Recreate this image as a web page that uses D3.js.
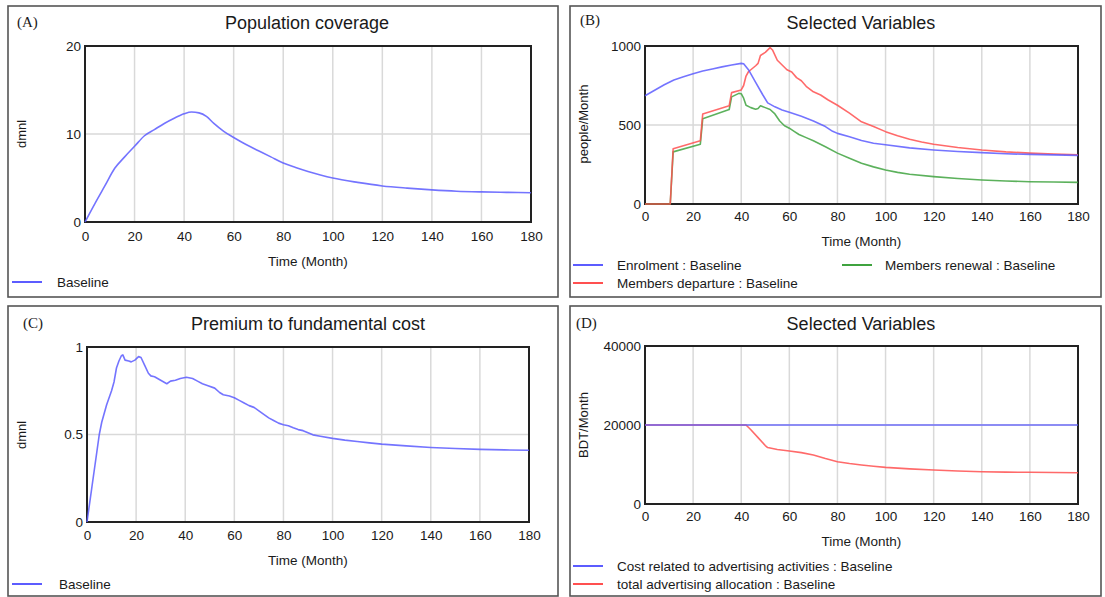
<!DOCTYPE html>
<html>
<head>
<meta charset="utf-8">
<script src="https://cdn.jsdelivr.net/npm/d3@7"></script>
<style>
  html, body { margin: 0; padding: 0; background: #fff; }
  svg { display: block; }
  text { font-family: "Liberation Sans", Arial, sans-serif; fill: #1a1a1a; }
  .tag { font-family: "Liberation Serif", "Times New Roman", serif; }
</style>
</head>
<body>
<svg id="chart" width="1105" height="597"></svg>
<script>
// Time axis shared by every panel
const monthTicks = [0, 20, 40, 60, 80, 100, 120, 140, 160, 180];

// (A) Population coverage
const coverageMonths = [0, 4, 8, 12, 16, 20, 24, 28, 32, 36, 40, 43, 46, 49, 52, 56, 60, 65, 70, 75, 80, 85, 90, 95, 100, 110, 120, 130, 140, 150, 160, 170, 180];
const coverageValues = [0, 2.1, 4.1, 6.1, 7.4, 8.6, 9.8, 10.5, 11.2, 11.8, 12.3, 12.5, 12.4, 12.0, 11.2, 10.3, 9.6, 8.8, 8.1, 7.4, 6.7, 6.2, 5.75, 5.35, 5.0, 4.5, 4.1, 3.85, 3.65, 3.5, 3.42, 3.37, 3.32];
const coverageTicks = [0, 10, 20];

// (B) Selected variables, people/Month
const enrolMonths = [0, 4, 8, 12, 16, 20, 24, 28, 32, 36, 40, 41, 43, 46, 49, 51, 54, 57, 60, 65, 70, 75, 78, 80, 85, 90, 95, 100, 110, 120, 130, 140, 150, 160, 170, 180];
const enrolValues = [685, 720, 755, 785, 805, 825, 842, 855, 868, 880, 890, 888, 850, 770, 690, 640, 615, 595, 580, 555, 525, 490, 460, 447, 425, 402, 385, 375, 355, 342, 332, 325, 318, 314, 311, 308];
const departureMonths = [0, 10.5, 11.7, 23, 24, 35, 36, 40, 41, 42, 43, 46, 47, 48, 50, 52, 53, 55, 57, 59, 61, 63, 65, 67, 70, 73, 76, 80, 85, 90, 95, 100, 105, 110, 115, 120, 130, 140, 150, 160, 170, 180];
const departureValues = [0, 0, 350, 400, 570, 622, 705, 722, 750, 810, 837, 875, 890, 940, 960, 990, 975, 910, 880, 850, 835, 800, 780, 745, 710, 690, 660, 625, 575, 520, 490, 458, 432, 410, 392, 378, 358, 342, 330, 322, 316, 312];
const renewalMonths = [0, 10.5, 11.7, 23, 24, 35, 36, 39, 40, 41, 42, 44, 46, 47, 48, 50, 52, 54, 56, 58, 60, 62, 64, 67, 70, 75, 80, 85, 90, 95, 100, 105, 110, 120, 130, 140, 150, 160, 170, 180];
const renewalValues = [0, 0, 330, 378, 540, 598, 678, 700, 698, 670, 625, 610, 600, 605, 622, 610, 598, 570, 525, 495, 480, 460, 440, 420, 400, 362, 322, 290, 258, 235, 215, 200, 188, 173, 161, 152, 146, 141, 139, 137];
const peopleTicks = [0, 500, 1000];

// (C) Premium to fundamental cost
const premiumMonths = [0, 2, 4, 5, 6, 8, 10, 11, 12, 13, 14, 14.6, 15.5, 17, 18, 19.5, 21, 22, 23.5, 25, 26, 27.5, 30, 32.5, 34, 36, 38, 40.5, 43, 45, 47, 49, 52, 54, 55.5, 58, 60, 62, 64, 66, 68, 70, 72, 74, 76, 78, 80, 82, 84, 86, 88, 90, 92, 95, 100, 105, 110, 115, 120, 130, 140, 150, 160, 170, 180];
const premiumValues = [0, 0.2, 0.4, 0.5, 0.57, 0.67, 0.75, 0.8, 0.88, 0.92, 0.95, 0.955, 0.925, 0.92, 0.915, 0.925, 0.945, 0.94, 0.895, 0.85, 0.835, 0.83, 0.81, 0.79, 0.805, 0.81, 0.82, 0.827, 0.82, 0.805, 0.79, 0.78, 0.765, 0.74, 0.727, 0.72, 0.71, 0.695, 0.68, 0.665, 0.655, 0.635, 0.615, 0.595, 0.58, 0.565, 0.556, 0.55, 0.538, 0.528, 0.522, 0.51, 0.498, 0.49, 0.478, 0.468, 0.46, 0.452, 0.445, 0.435, 0.426, 0.42, 0.415, 0.412, 0.41];
const premiumTicks = [0, 0.5, 1];

// (D) Selected variables, BDT/Month
const advCostMonths = [0, 180];
const advCostValues = [20000, 20000];
const allocationMonths = [0, 42, 44, 47, 50, 51, 55, 60, 65, 70, 75, 80, 85, 90, 95, 100, 110, 120, 130, 140, 150, 160, 170, 180];
const allocationValues = [20000, 20000, 18800, 16800, 14800, 14300, 13800, 13400, 13000, 12400, 11500, 10700, 10250, 9870, 9550, 9280, 8900, 8610, 8350, 8180, 8080, 8020, 7970, 7930];
const bdtTicks = [0, 20000, 40000];

const BLUE = "#5c5cff", RED = "#ff5050", GREEN = "#3fa33f";

const svg = d3.select("#chart");

function zip(ms, vs) { return ms.map((m, i) => ({ m, v: vs[i] })); }

function panel(cfg) {
  const g = svg.append("g");
  // outer frame
  g.append("rect")
    .attr("x", cfg.frame[0]).attr("y", cfg.frame[1])
    .attr("width", cfg.frame[2] - cfg.frame[0]).attr("height", cfg.frame[3] - cfg.frame[1])
    .attr("fill", "none").attr("stroke", "#555").attr("stroke-width", 1.6);

  g.append("text").attr("class", "tag")
    .attr("x", cfg.tag[0]).attr("y", cfg.tag[1])
    .attr("font-size", 15).text(cfg.tagText);

  g.append("text")
    .attr("x", cfg.titleX).attr("y", cfg.titleY)
    .attr("text-anchor", "middle").attr("font-size", 18).text(cfg.title);

  const [x0, x1, y0, y1] = cfg.plot;
  const x = d3.scaleLinear().domain([0, 180]).range([x0, x1]);
  const y = d3.scaleLinear().domain([cfg.yTicks[0], cfg.yTicks[cfg.yTicks.length - 1]]).range([y1, y0]);

  // grid
  const grid = g.append("g").attr("stroke", "#d9d9d9").attr("stroke-width", 1.5);
  monthTicks.slice(1, -1).forEach(t => {
    grid.append("line").attr("x1", x(t)).attr("x2", x(t)).attr("y1", y0).attr("y2", y1);
  });
  cfg.yTicks.slice(1, -1).forEach(t => {
    grid.append("line").attr("x1", x0).attr("x2", x1).attr("y1", y(t)).attr("y2", y(t));
  });

  // axes tick labels
  const xa = g.append("g").attr("transform", `translate(0,${y1})`)
    .call(d3.axisBottom(x).tickValues(monthTicks).tickSize(0).tickPadding(cfg.xPad));
  const ya = g.append("g").attr("transform", `translate(${x0},0)`)
    .call(d3.axisLeft(y).tickValues(cfg.yTicks).tickSize(0).tickPadding(4).tickFormat(d3.format("")));
  [xa, ya].forEach(a => {
    a.select(".domain").remove();
    a.selectAll("text").attr("font-size", 13.5).attr("font-family", '"Liberation Sans", Arial, sans-serif').attr("fill", "#1a1a1a");
  });

  // plot frame
  g.append("rect").attr("x", x0).attr("y", y0).attr("width", x1 - x0).attr("height", y1 - y0)
    .attr("fill", "none").attr("stroke", "#222").attr("stroke-width", 2);

  // series
  const line = d3.line().x(d => x(d.m)).y(d => y(d.v)).curve(cfg.curve || d3.curveLinear);
  cfg.series.forEach(s => {
    g.append("path").datum(zip(s.months, s.values))
      .attr("d", line).attr("fill", "none")
      .attr("stroke", s.color).attr("stroke-width", 1.6).attr("stroke-opacity", 0.85)
      .attr("stroke-linejoin", "round");
  });

  g.append("text").attr("x", (x0 + x1) / 2).attr("y", cfg.xLabelY)
    .attr("text-anchor", "middle").attr("font-size", 13.5).text("Time (Month)");

  g.append("text")
    .attr("transform", `translate(${cfg.yLabel[0]},${cfg.yLabel[1]}) rotate(-90)`)
    .attr("text-anchor", "middle").attr("font-size", 13).text(cfg.yLabelText);

  cfg.legend.forEach(l => {
    g.append("line").attr("x1", l.x).attr("x2", l.x + 30).attr("y1", l.y).attr("y2", l.y)
      .attr("stroke", l.color).attr("stroke-width", 2);
    g.append("text").attr("x", l.tx).attr("y", l.y + 4.5).attr("font-size", 13.5).text(l.text);
  });
}

panel({
  frame: [8, 6, 558, 297], tag: [17, 27], tagText: "(A)",
  title: "Population coverage", titleX: 307, titleY: 29,
  plot: [85, 531, 46, 222], yTicks: coverageTicks, xPad: 9, xLabelY: 266,
  yLabel: [26, 134], yLabelText: "dmnl", curve: d3.curveMonotoneX,
  series: [{ months: coverageMonths, values: coverageValues, color: BLUE }],
  legend: [{ x: 12, y: 282, tx: 57, color: BLUE, text: "Baseline" }]
});

panel({
  frame: [570, 6, 1101, 297], tag: [580, 25], tagText: "(B)",
  title: "Selected Variables", titleX: 861, titleY: 29,
  plot: [645, 1078, 46, 204], yTicks: peopleTicks, xPad: 7, xLabelY: 246,
  yLabel: [588, 124], yLabelText: "people/Month",
  series: [
    { months: renewalMonths, values: renewalValues, color: GREEN },
    { months: departureMonths, values: departureValues, color: RED },
    { months: enrolMonths, values: enrolValues, color: BLUE }
  ],
  legend: [
    { x: 573, y: 265, tx: 617, color: BLUE, text: "Enrolment : Baseline" },
    { x: 842, y: 265, tx: 885, color: GREEN, text: "Members renewal : Baseline" },
    { x: 573, y: 283, tx: 617, color: RED, text: "Members departure : Baseline" }
  ]
});

panel({
  frame: [8, 306, 558, 596], tag: [23, 328], tagText: "(C)",
  title: "Premium to fundamental cost", titleX: 308, titleY: 330,
  plot: [87, 529, 347, 522], yTicks: premiumTicks, xPad: 8, xLabelY: 565,
  yLabel: [26, 435], yLabelText: "dmnl",
  series: [{ months: premiumMonths, values: premiumValues, color: BLUE }],
  legend: [{ x: 12, y: 584, tx: 59, color: BLUE, text: "Baseline" }]
});

panel({
  frame: [570, 306, 1101, 596], tag: [576, 328], tagText: "(D)",
  title: "Selected Variables", titleX: 861, titleY: 330,
  plot: [645, 1078, 346, 504], yTicks: bdtTicks, xPad: 7, xLabelY: 546,
  yLabel: [588, 425], yLabelText: "BDT/Month",
  series: [
    { months: allocationMonths, values: allocationValues, color: RED },
    { months: advCostMonths, values: advCostValues, color: BLUE }
  ],
  legend: [
    { x: 573, y: 566, tx: 617, color: BLUE, text: "Cost related to advertising activities : Baseline" },
    { x: 573, y: 584, tx: 617, color: RED, text: "total advertising allocation : Baseline" }
  ]
});
</script>
</body>
</html>
